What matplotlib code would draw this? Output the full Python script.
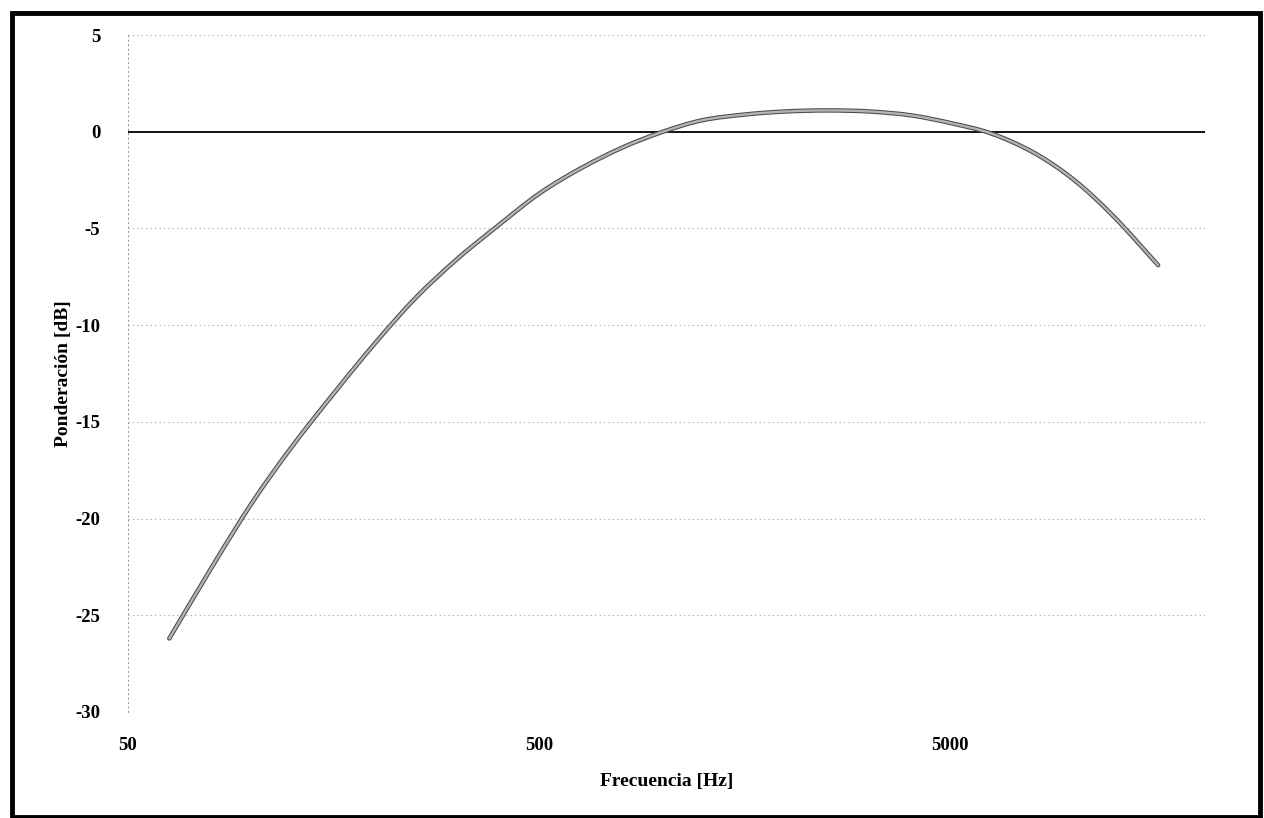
import numpy as np
import matplotlib.pyplot as plt
from matplotlib.patches import Rectangle, PathPatch
from matplotlib.path import Path

# curva de ponderación A (tercios de octava)
freqs = [63, 80, 100, 125, 160, 200, 250, 315, 400, 500, 630, 800, 1000,
         1250, 1600, 2000, 2500, 3150, 4000, 5000, 6300, 8000, 10000, 12500, 16000]
ponderacion = [-26.2, -22.5, -19.2, -16.3, -13.4, -10.9, -8.6, -6.6, -4.8, -3.2,
               -1.9, -0.8, 0.0, 0.6, 0.9, 1.05, 1.1, 1.05, 0.85, 0.45,
               -0.1, -1.1, -2.5, -4.4, -6.9]
xticks = [50, 500, 5000]
yticks = [5, 0, -5, -10, -15, -20, -25, -30]

plt.rcParams['font.family'] = ['Liberation Serif', 'DejaVu Serif']
plt.rcParams['axes.unicode_minus'] = False


def smooth_path(xs, ys):
    # linea suavizada tipo Excel (Bezier Catmull-Rom en espacio log-x)
    lx = np.log10(xs)
    ys = np.asarray(ys, float)
    verts = [(xs[0], ys[0])]
    codes = [Path.MOVETO]
    n = len(lx)
    for i in range(n - 1):
        p0 = (lx[max(i - 1, 0)], ys[max(i - 1, 0)])
        p1 = (lx[i], ys[i])
        p2 = (lx[i + 1], ys[i + 1])
        p3 = (lx[min(i + 2, n - 1)], ys[min(i + 2, n - 1)])
        c1 = (p1[0] + (p2[0] - p0[0]) / 6, p1[1] + (p2[1] - p0[1]) / 6)
        c2 = (p2[0] - (p3[0] - p1[0]) / 6, p2[1] - (p3[1] - p1[1]) / 6)
        for c in (c1, c2, p2):
            verts.append((10 ** c[0], c[1]))
            codes.append(Path.CURVE4)
    return Path(verts, codes)


fig = plt.figure(figsize=(12.64, 8.18), dpi=100)
ax = fig.add_axes([0.1013, 0.1296, 0.852, 0.8276])

ax.set_xscale('log')
ax.set_xlim(50, 20800)
ax.set_ylim(-30, 5)

# gridlines
for y in yticks:
    if y == 0:
        continue
    ax.axhline(y, color='#a0a0a0', lw=0.8, ls=(0, (1, 3)), zorder=1)
ax.axhline(0, color='black', lw=1.3, zorder=2)

# curva: borde oscuro con relleno gris
path = smooth_path(freqs, ponderacion)
ax.add_patch(PathPatch(path, facecolor='none', edgecolor='#4a4a4a', lw=3.2,
                       capstyle='round', zorder=3))
ax.add_patch(PathPatch(path, facecolor='none', edgecolor='#b4b4b4', lw=1.7,
                       capstyle='round', zorder=4))

for s in ['top', 'right', 'bottom']:
    ax.spines[s].set_visible(False)
ax.spines['left'].set_color('#a0a0a0')
ax.spines['left'].set_linestyle((0, (1, 3)))
ax.spines['left'].set_linewidth(0.8)

ax.set_xticks(xticks)
ax.set_xticklabels([str(x) for x in xticks])
ax.xaxis.set_minor_locator(plt.NullLocator())
ax.set_yticks(yticks)
ax.tick_params(axis='both', length=0, labelsize=13.5)
ax.tick_params(axis='y', pad=20)
ax.tick_params(axis='x', pad=18)
for lab in ax.get_xticklabels() + ax.get_yticklabels():
    lab.set_fontweight('bold')

ax.set_xlabel('Frecuencia [Hz]', fontsize=14, fontweight='bold', labelpad=14)
ax.set_ylabel('Ponderación [dB]', fontsize=14, fontweight='bold', labelpad=2)

# marco exterior
fig.patches.append(Rectangle((0.0095, 0.0015), 0.987, 0.983,
                             transform=fig.transFigure, fill=False,
                             edgecolor='black', lw=3.5))

fig.savefig('out.png', dpi=100)
